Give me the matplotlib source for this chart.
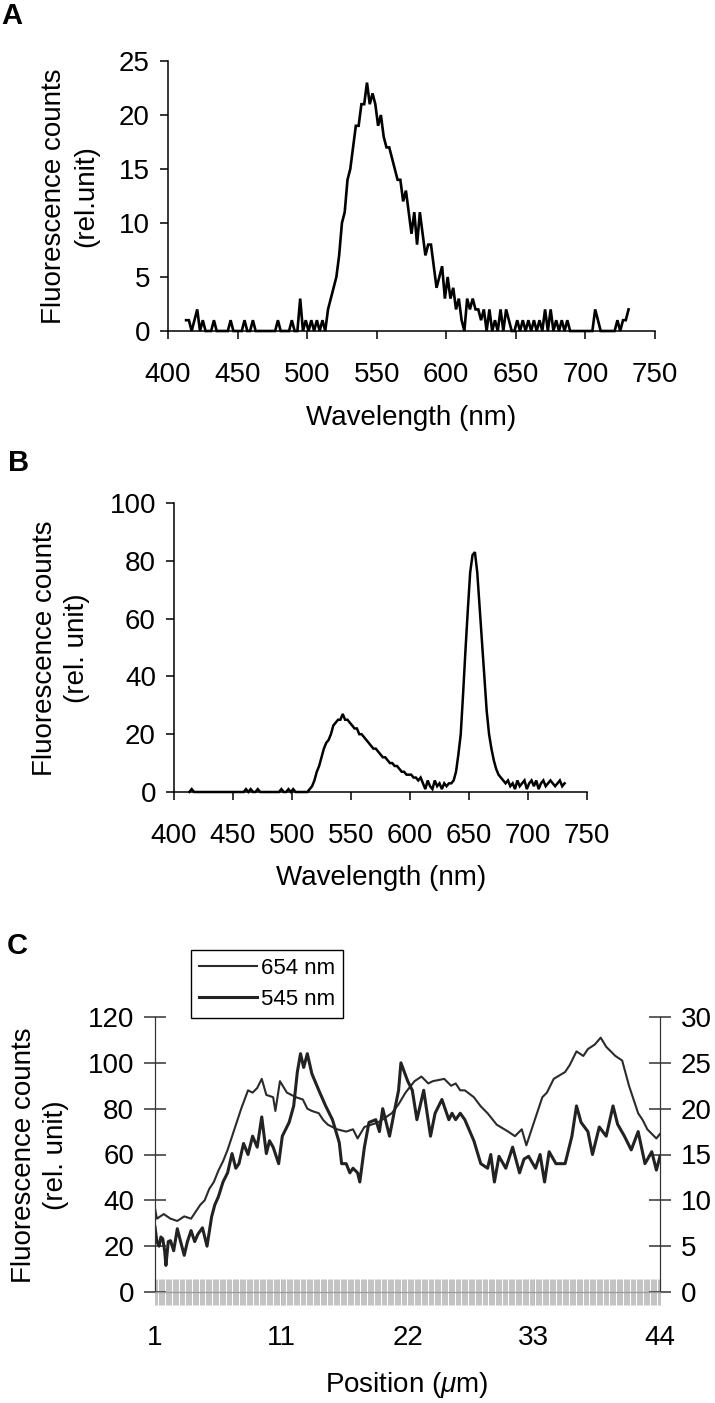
"""
Espectros de fluorescencia (A, B) y perfil de intensidad a lo largo de la muestra (C).
"""

import numpy as np
import matplotlib
matplotlib.use("Agg")
import matplotlib.pyplot as plt
from matplotlib.ticker import MultipleLocator, FixedLocator, FixedFormatter

plt.rcParams['font.family'] = ['Liberation Sans', 'DejaVu Sans']
plt.rcParams['mathtext.fontset'] = 'custom'
plt.rcParams['mathtext.rm'] = 'Liberation Sans'
plt.rcParams['mathtext.it'] = 'Liberation Sans:italic'

# =============================================================================
# 1. DATOS
# =============================================================================

# Panel A / B: longitud de onda 413-731 nm, paso de 2 nm
wl_start, wl_stop, wl_step = 413, 731, 2

counts_a = [
    1, 1, 0, 1, 2, 0, 1, 0, 0, 0,
    1, 0, 0, 0, 0, 0, 1, 0, 0, 0,
    0, 1, 0, 0, 1, 0, 0, 0, 0, 0,
    0, 0, 0, 1, 0, 0, 0, 0, 1, 0,
    0, 3, 0, 1, 0, 1, 0, 1, 0, 1,
    0, 2, 3, 4, 5, 7, 10, 11, 14, 15,
    17, 19, 19, 21, 21, 23, 21, 22, 21, 19,
    20, 18, 17, 17, 16, 15, 14, 14, 12, 13,
    11, 9, 11, 8, 11, 9, 7, 8, 8, 6,
    4, 5, 6, 3, 5, 3, 4, 2, 3, 1,
    0, 3, 2, 3, 2, 2, 1, 2, 0, 2,
    0, 1, 0, 2, 0, 2, 1, 0, 0, 1,
    0, 1, 0, 1, 0, 1, 0, 1, 0, 2,
    0, 2, 0, 1, 0, 1, 0, 1, 0, 0,
    0, 0, 0, 0, 0, 0, 0, 2, 1, 0,
    0, 0, 0, 0, 0, 1, 0, 1, 1, 2,
]

counts_b = [
    0, 1, 0, 0, 0, 0, 0, 0, 0, 0,
    0, 0, 0, 0, 0, 0, 0, 0, 0, 0,
    0, 0, 0, 0, 1, 0, 1, 0, 0, 1,
    0, 0, 0, 0, 0, 0, 0, 0, 0, 1,
    0, 0, 1, 0, 1, 0, 0, 0, 0, 0,
    0, 1, 2, 4, 7, 9, 12, 15, 17, 18,
    20, 23, 24, 25, 25, 27, 25, 25, 24, 23,
    22, 22, 20, 20, 19, 18, 17, 16, 15, 15,
    14, 13, 12, 12, 11, 10, 10, 9, 9, 8,
    7, 7, 6, 6, 6, 5, 5, 4, 5, 3,
    1, 4, 2, 1, 4, 2, 3, 1, 3, 2,
    3, 3, 4, 7, 13, 20, 34, 49, 63, 76,
    82, 83, 76, 64, 52, 40, 28, 20, 15, 11,
    8, 6, 5, 4, 3, 4, 2, 3, 1, 4,
    2, 3, 4, 1, 3, 4, 2, 4, 1, 3,
    4, 2, 3, 4, 3, 2, 3, 4, 2, 3,
]

wl_ticks = [400, 450, 500, 550, 600, 650, 700, 750]

# Panel C: perfil a 654 nm (eje izquierdo)
pos_654 = [
    1.0, 1.16, 1.74, 2.32, 2.9, 3.49, 4.07, 4.46, 4.85, 5.23,
    5.62, 6.01, 6.4, 6.79, 7.18, 7.76, 8.34, 8.92, 9.31, 9.7,
    10.09, 10.48, 11.06, 11.25, 11.64, 12.23, 13.0, 13.59, 13.97, 14.36,
    14.95, 15.33, 15.72, 16.5, 17.28, 17.86, 18.25, 18.83, 19.41, 20.0,
    20.58, 21.16, 21.75, 22.33, 23.1, 23.69, 24.27, 24.66, 25.63, 26.21,
    26.6, 26.99, 27.38, 28.15, 28.74, 29.32, 30.1, 31.07, 31.65, 32.23,
    32.62, 33.2, 33.98, 34.37, 34.95, 35.92, 36.31, 36.89, 37.47, 37.86,
    38.45, 38.95, 39.42, 39.81, 40.2, 40.78, 41.36, 41.75, 42.14, 42.53,
    42.92, 43.69, 44.0,
]
val_654 = [
    36.5, 32, 34, 32, 31, 33, 32, 35, 38, 40,
    45, 48, 53, 57, 62, 71, 80, 88, 87, 89,
    93, 86, 85, 79, 92, 87, 85, 84, 80, 79,
    78, 75, 73, 71, 70, 71, 67, 72, 73, 74,
    76, 78, 82, 87, 92, 94, 91, 92, 93, 90,
    91, 88, 88, 85, 81, 78, 73, 70, 68, 71,
    64, 73, 85, 87, 93, 96, 99, 105, 103, 106,
    108, 111, 107, 105, 103, 101, 90, 84, 78, 75,
    71, 67, 69,
]

# Panel C: perfil a 545 nm (eje derecho)
pos_545 = [
    1.0, 1.16, 1.35, 1.5, 1.66, 1.82, 1.93, 2.13, 2.32, 2.59,
    2.9, 3.18, 3.49, 3.76, 4.07, 4.38, 4.65, 5.04, 5.43, 5.82,
    6.09, 6.4, 6.79, 7.18, 7.56, 7.88, 8.15, 8.54, 8.92, 9.31,
    9.7, 10.09, 10.48, 10.75, 11.06, 11.53, 11.84, 12.42, 12.81, 13.12,
    13.39, 13.66, 13.97, 14.36, 14.95, 15.53, 16.11, 16.69, 16.89, 17.28,
    17.59, 17.86, 18.25, 18.44, 18.83, 19.22, 19.8, 20.11, 20.39, 20.97,
    21.35, 21.74, 21.94, 22.52, 22.91, 23.3, 23.88, 24.46, 24.85, 25.43,
    26.02, 26.29, 26.6, 26.99, 27.38, 28.15, 28.74, 29.32, 29.59, 29.9,
    30.29, 30.87, 31.45, 32.04, 32.42, 32.81, 33.4, 33.79, 34.17, 34.56,
    35.14, 35.92, 36.5, 36.89, 37.28, 37.86, 38.25, 38.83, 39.42, 40.0,
    40.39, 40.97, 41.55, 42.14, 42.72, 43.3, 43.69, 44.0,
]
val_545 = [
    7.1, 5.5, 5.0, 6.0, 5.8, 4.5, 2.9, 5.5, 5.6, 4.5,
    6.9, 5.5, 4.0, 5.5, 6.7, 5.5, 6.3, 7.0, 5.0, 8.2,
    9.5, 10.4, 12.0, 13.0, 15.1, 13.5, 14.0, 16.2, 15.0, 17.0,
    15.8, 19.1, 15.1, 16.5, 15.8, 14.0, 17.0, 18.5, 20.3, 24.0,
    26.0, 24.5, 26.0, 23.8, 22.0, 20.3, 18.8, 16.3, 14.0, 14.0,
    13.0, 13.5, 13.0, 12.0, 15.8, 18.5, 18.8, 17.5, 20.0, 17.0,
    19.5, 22.0, 25.0, 23.0, 22.0, 18.8, 22.0, 17.0, 19.5, 21.0,
    18.8, 19.5, 18.8, 19.5, 18.8, 16.5, 14.0, 13.5, 15.0, 12.0,
    14.8, 13.5, 15.8, 13.0, 14.5, 14.8, 13.5, 15.0, 12.0, 15.3,
    14.0, 14.0, 17.0, 20.3, 18.5, 17.5, 15.0, 18.0, 17.0, 20.3,
    18.3, 17.0, 15.5, 17.5, 14.0, 15.3, 13.3, 14.8,
]

pos_labels = ['1', '11', '22', '33', '44']
series_labels = ['654 nm', '545 nm']

# =============================================================================
# 2. FIGURA
# =============================================================================

W, H = 715, 1403
FS = 20


def caja(x0, y0, x1, y1):
    """Convierte una caja en píxeles (origen arriba-izquierda) a coords de figura."""
    return [x0 / W, 1 - y1 / H, (x1 - x0) / W, (y1 - y0) / H]


def panel_espectro(fig, rect, wl, counts, ylim, ystep, lw):
    ax = fig.add_axes(rect)
    ax.plot(wl, counts, color='black', linewidth=lw, solid_joinstyle='miter', clip_on=False)
    ax.set_xlim(400, 750)
    ax.set_ylim(*ylim)
    ax.set_xticks(wl_ticks)
    ax.yaxis.set_major_locator(MultipleLocator(ystep))
    for s in ['top', 'right']:
        ax.spines[s].set_visible(False)
    for s in ['left', 'bottom']:
        ax.spines[s].set_linewidth(1.1)
    ax.tick_params(axis='both', direction='out', length=6, width=1.1, labelsize=FS)
    ax.tick_params(axis='x', pad=16)
    ax.tick_params(axis='y', pad=7)
    return ax


fig = plt.figure(figsize=(W / 100, H / 100), dpi=100)
wl = np.arange(wl_start, wl_stop + 1, wl_step)

# --- Panel A ---
ax_a = panel_espectro(fig, caja(168, 61, 655, 331), wl, counts_a, (0, 25), 5, 1.9)
fig.text(70 / W, 1 - 196 / H, 'Fluorescence counts\n(rel.unit)', rotation=90,
         ha='center', va='center', fontsize=FS, linespacing=1.3)
fig.text(411 / W, 1 - 418 / H, 'Wavelength (nm)', ha='center', va='center', fontsize=FS)
fig.text(12 / W, 1 - 16 / H, 'A', ha='center', va='center', fontsize=21, fontweight='bold')

# --- Panel B ---
ax_b = panel_espectro(fig, caja(174, 503, 587, 792), wl, counts_b, (0, 100), 20, 1.8)
fig.text(61 / W, 1 - 648 / H, 'Fluorescence counts\n(rel. unit)', rotation=90,
         ha='center', va='center', fontsize=FS, linespacing=1.3)
fig.text(381 / W, 1 - 878 / H, 'Wavelength (nm)', ha='center', va='center', fontsize=FS)
fig.text(19 / W, 1 - 463 / H, 'B', ha='center', va='center', fontsize=21, fontweight='bold')

# --- Panel C ---
ax_c = fig.add_axes(caja(155, 1017, 660, 1292))
ax_c2 = ax_c.twinx()
l1, = ax_c.plot(pos_654, val_654, color='#2b2b2b', linewidth=1.5, label=series_labels[0])
l2, = ax_c2.plot(pos_545, val_545, color='#222222', linewidth=2.2, label=series_labels[1])

ax_c.set_xlim(1, 44)
ax_c.set_ylim(0, 120)
ax_c2.set_ylim(0, 30)
ax_c.yaxis.set_major_locator(MultipleLocator(20))
ax_c2.yaxis.set_major_locator(MultipleLocator(5))
ax_c.xaxis.set_major_locator(FixedLocator(np.linspace(1, 44, len(pos_labels))))
ax_c.xaxis.set_major_formatter(FixedFormatter(pos_labels))
ax_c.xaxis.set_minor_locator(MultipleLocator(0.1))

for a in (ax_c, ax_c2):
    a.spines['top'].set_visible(False)
    a.spines['left'].set_color('#333333')
    a.spines['right'].set_color('#333333')
    a.spines['bottom'].set_color('#9a9a9a')
ax_c.tick_params(axis='y', direction='inout', length=16, width=1.1, color='#333333',
                 labelsize=FS, pad=7)
ax_c2.tick_params(axis='y', direction='inout', length=16, width=1.1, color='#333333',
                  labelsize=FS, pad=7)
ax_c.tick_params(axis='x', which='both', direction='inout', length=19, width=0.6,
                 color='#b8b8b8', labelsize=FS, pad=14)

fig.text(40 / W, 1 - 1155 / H, 'Fluorescence counts\n(rel. unit)', rotation=90,
         ha='center', va='center', fontsize=FS, linespacing=1.3)
fig.text(407 / W, 1 - 1385 / H, r'Position ($\mu$m)', ha='center', va='center', fontsize=FS)
fig.text(17 / W, 1 - 946 / H, 'C', ha='center', va='center', fontsize=21, fontweight='bold')

leg = fig.legend(handles=[l1, l2], loc='upper left', bbox_to_anchor=(191 / W, 1 - 950 / H),
                 fontsize=16, frameon=True, fancybox=False, framealpha=1,
                 handlelength=2.6, handletextpad=0.2, borderpad=0.35,
                 labelspacing=0.45, borderaxespad=0)
leg.get_frame().set_edgecolor('black')
leg.get_frame().set_linewidth(1.0)

fig.savefig('out.png', dpi=100)
plt.close(fig)
